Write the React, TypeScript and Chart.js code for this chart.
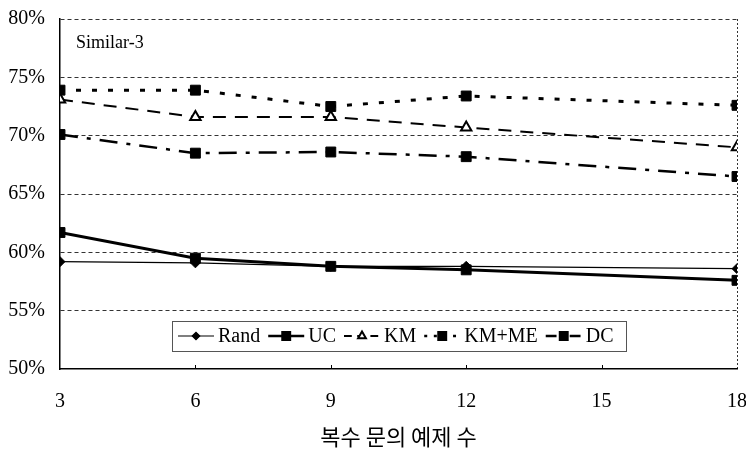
import React, { useEffect, useRef } from 'react';
import { Chart, registerables } from 'chart.js';
import { drawPoint } from 'chart.js/helpers';

Chart.register(...registerables);

// ---- data ----
const xValues = [3, 6, 9, 12, 18];
const seriesNames = ['Rand', 'UC', 'KM', 'KM+ME', 'DC'];
const randValues = [59.2, 59.1, 58.8, 58.8, 58.6];
const ucValues = [61.7, 59.5, 58.8, 58.5, 57.6];
const kmValues = [73.1, 71.6, 71.6, 70.7, 69.0];
const kmmeValues = [73.9, 73.9, 72.5, 73.4, 72.6];
const dcValues = [70.1, 68.5, 68.6, 68.2, 66.5];
const xMin = 3;
const xMax = 18;
const xStep = 3;
const yMin = 50;
const yMax = 80;
const yStep = 5;
const panelLabel = 'Similar-3';
const xTitle = '복수 문의 예제 수';

const SERIF = "'Liberation Serif', 'Times New Roman', serif";

const toPoints = (vals: number[]) => vals.map((v, i) => ({ x: xValues[i], y: v }));

const overlayPlugin = {
  id: 'overlay',
  afterDatasetsDraw(chart: any) {
    const ctx = chart.ctx as CanvasRenderingContext2D;
    const ca = chart.chartArea;
    const xs = chart.scales.x;
    ctx.save();
    // small inner tick marks on x axis
    ctx.strokeStyle = '#000';
    ctx.lineWidth = 1;
    for (let v = xMin + xStep; v < xMax; v += xStep) {
      const px = Math.round(xs.getPixelForValue(v)) + 0.5;
      ctx.beginPath();
      ctx.moveTo(px, ca.bottom);
      ctx.lineTo(px, ca.bottom - 4);
      ctx.stroke();
    }
    // panel label
    ctx.fillStyle = '#000';
    ctx.font = `18px ${SERIF}`;
    ctx.textBaseline = 'middle';
    ctx.textAlign = 'left';
    ctx.fillText(panelLabel, ca.left + 16, ca.top + 24);

    // legend box
    ctx.font = `20px ${SERIF}`;
    const L = 36;
    const startX = ca.left + 118;
    const cy = ca.bottom - 33;
    const dsets = chart.data.datasets;
    let total = 0;
    dsets.forEach((ds: any, i: number) => {
      total += L + 4 + ctx.measureText(ds.label).width + (i < dsets.length - 1 ? 8 : 0);
    });
    const boxL = startX - 6;
    const boxR = startX + total + 12;
    ctx.fillStyle = '#fff';
    ctx.fillRect(boxL, cy - 15, boxR - boxL, 30);
    ctx.strokeStyle = '#555';
    ctx.lineWidth = 1;
    ctx.strokeRect(Math.round(boxL) + 0.5, Math.round(cy - 15) + 0.5, Math.round(boxR - boxL), 30);
    let x = startX;
    dsets.forEach((ds: any) => {
      ctx.save();
      ctx.strokeStyle = ds.borderColor;
      ctx.lineWidth = Math.min(ds.borderWidth, 2.5);
      ctx.setLineDash(ds.borderDash ? ds.borderDash.map((d: number) => d * 0.6) : []);
      ctx.beginPath();
      ctx.moveTo(x, cy);
      ctx.lineTo(x + L, cy);
      ctx.stroke();
      ctx.setLineDash([]);
      ctx.fillStyle = ds.pointBackgroundColor;
      ctx.strokeStyle = ds.pointBorderColor;
      drawPoint(ctx, {
        pointStyle: ds.pointStyle,
        radius: ds.pointRadius * 0.75,
        rotation: 0,
        borderWidth: ds.pointBorderWidth,
      } as any, x + L / 2, cy);
      ctx.restore();
      x += L + 4;
      ctx.fillStyle = '#000';
      ctx.textAlign = 'left';
      ctx.textBaseline = 'middle';
      ctx.fillText(ds.label, x, cy + 1);
      x += ctx.measureText(ds.label).width + 8;
    });
    ctx.restore();
  },
};

export default function App() {
  const ref = useRef<HTMLCanvasElement | null>(null);
  useEffect(() => {
    if (!ref.current) return;
    const chart = new Chart(ref.current, {
      type: 'line',
      data: {
        datasets: [
          {
            label: seriesNames[0],
            data: toPoints(randValues),
            borderColor: '#000',
            borderWidth: 1.2,
            pointStyle: 'rectRot',
            pointRadius: 5,
            pointBackgroundColor: '#000',
            pointBorderColor: '#000',
            pointBorderWidth: 1,
          },
          {
            label: seriesNames[1],
            data: toPoints(ucValues),
            borderColor: '#000',
            borderWidth: 3,
            pointStyle: 'rect',
            pointRadius: 7,
            pointBackgroundColor: '#000',
            pointBorderColor: '#000',
            pointBorderWidth: 1,
          },
          {
            label: seriesNames[2],
            data: toPoints(kmValues),
            borderColor: '#000',
            borderWidth: 2,
            borderDash: [13, 9],
            pointStyle: 'triangle',
            pointRadius: 6,
            pointBackgroundColor: '#fff',
            pointBorderColor: '#000',
            pointBorderWidth: 2,
          },
          {
            label: seriesNames[3],
            data: toPoints(kmmeValues),
            borderColor: '#000',
            borderWidth: 3,
            borderDash: [5, 11],
            pointStyle: 'rect',
            pointRadius: 7,
            pointBackgroundColor: '#000',
            pointBorderColor: '#000',
            pointBorderWidth: 1,
          },
          {
            label: seriesNames[4],
            data: toPoints(dcValues),
            borderColor: '#000',
            borderWidth: 2.5,
            borderDash: [18, 9, 4, 9],
            pointStyle: 'rect',
            pointRadius: 7,
            pointBackgroundColor: '#000',
            pointBorderColor: '#000',
            pointBorderWidth: 1,
          },
        ],
      },
      options: {
        responsive: false,
        animation: false,
        devicePixelRatio: 1,
        layout: { padding: { top: 19, right: 9, left: 0, bottom: 0 } },
        plugins: {
          legend: { display: false },
          tooltip: { enabled: false },
        },
        scales: {
          x: {
            type: 'linear',
            min: xMin,
            max: xMax,
            ticks: {
              stepSize: xStep,
              color: '#000',
              padding: 21,
              font: { family: SERIF, size: 20 },
            },
            grid: {
              drawTicks: false,
              color: (c: any) => (c.tick && c.tick.value === xMax ? '#333' : 'transparent'),
              lineWidth: 1,
            },
            border: { display: true, color: '#000', width: 1.5, dash: [2, 2] },
            title: {
              display: true,
              text: xTitle,
              color: '#000',
              font: { family: "'Noto Sans CJK KR', sans-serif", size: 22 },
              padding: { top: 0, bottom: 1 },
            },
            afterFit: (s: any) => {
              s.height = 82;
              s.paddingLeft = 0;
              s.paddingRight = 0;
            },
          },
          y: {
            min: yMin,
            max: yMax,
            ticks: {
              stepSize: yStep,
              color: '#000',
              padding: 15,
              font: { family: SERIF, size: 20 },
              callback: (v: any) => `${v}%`,
            },
            grid: {
              drawTicks: false,
              color: (c: any) => (c.tick && c.tick.value === yMin ? 'transparent' : '#333'),
              lineWidth: 1,
            },
            border: { display: true, color: '#000', width: 1.5, dash: [4, 3] },
            afterFit: (s: any) => {
              s.width = 60;
              s.paddingTop = 0;
              s.paddingBottom = 0;
            },
          },
        },
      },
      plugins: [overlayPlugin],
    } as any);
    return () => chart.destroy();
  }, []);
  return (
    <div style={{ position: 'fixed', left: 0, top: 0, width: 746, height: 451, background: '#fff' }}>
      <canvas ref={ref} width={746} height={451} style={{ display: 'block' }} />
    </div>
  );
}
